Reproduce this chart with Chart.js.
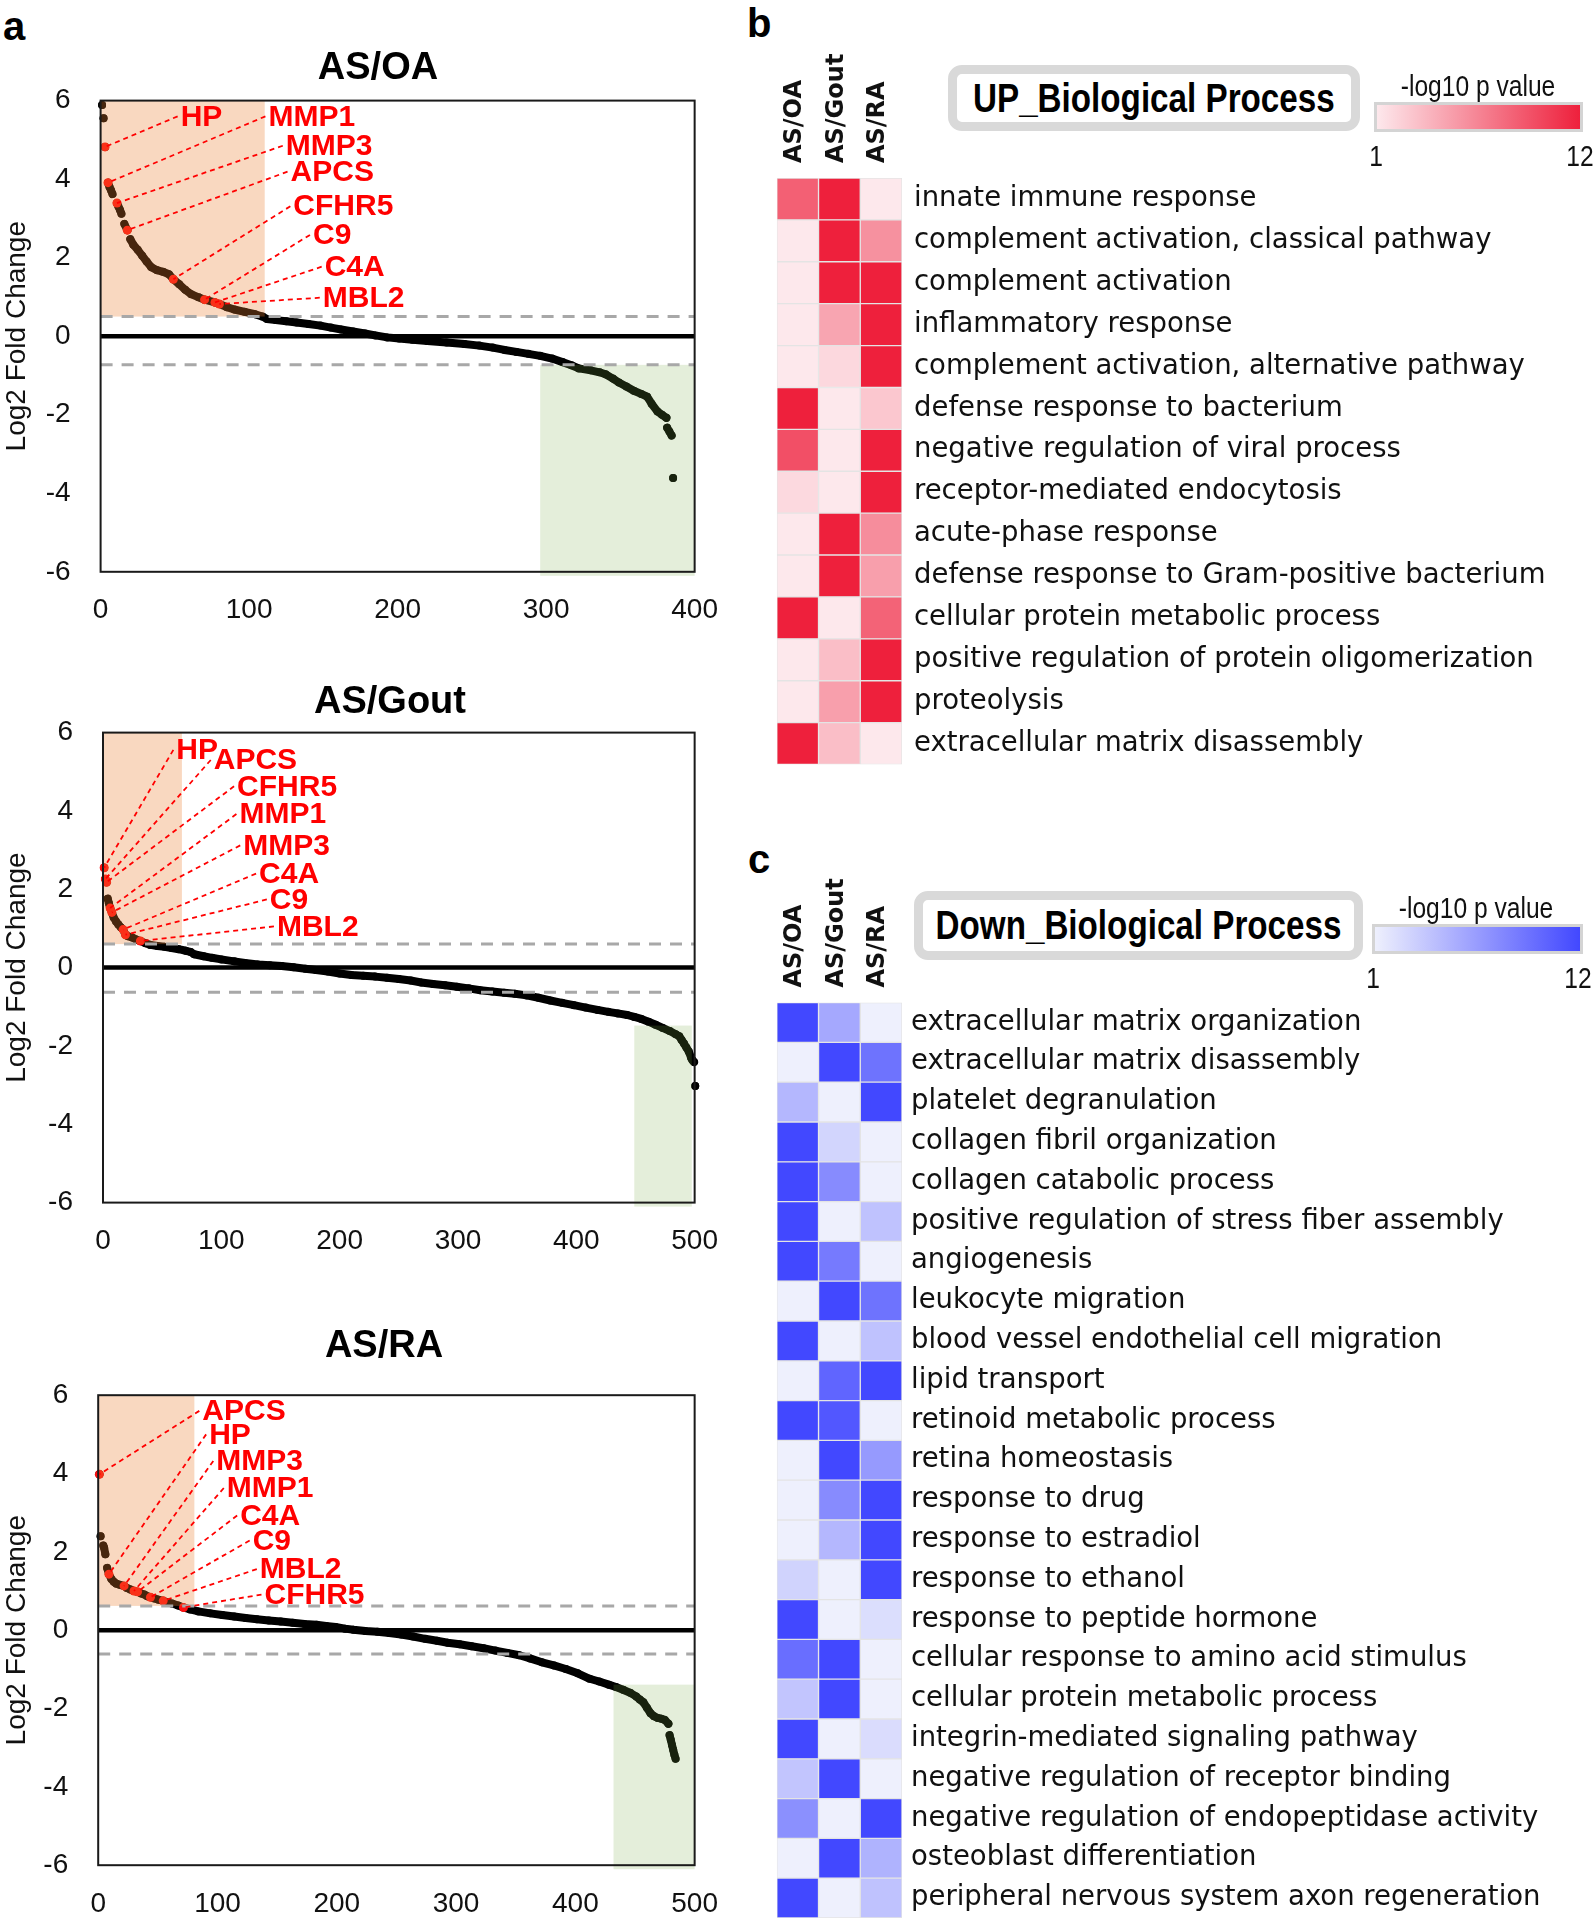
<!DOCTYPE html>
<html>
<head>
<meta charset="utf-8">
<script src="https://cdn.jsdelivr.net/npm/chart.js@4.4.1/dist/chart.umd.min.js"></script>
<style>
body { margin: 0; background: #fff; }
#page { position: relative; width: 1594px; height: 1924px; overflow: hidden; font-family: 'Liberation Sans', Arial, sans-serif; }
canvas { position: absolute; }
.panel { position: absolute; font: bold 40px 'Liberation Sans', Arial, sans-serif; line-height: 1; color: #000; }
.ttl { position: absolute; box-sizing: border-box; border: 9px solid #d9d9d9; border-radius: 14px; background: #fff;
       display: flex; align-items: center; justify-content: center; }
.ttl span { display: inline-block; font: bold 40px 'Liberation Sans', Arial, sans-serif; transform: scaleX(0.83); white-space: nowrap; }
.nar { position: absolute; font: 30px 'Liberation Sans', Arial, sans-serif; line-height: 1; white-space: nowrap;
       transform: translate(-50%, -50%) scaleX(0.82); color: #111; }
.bar { position: absolute; box-sizing: border-box; border: 3px solid #d4d4d4; }
</style>
</head>
<body>
<div id="page">
  <div class="panel" style="left:3px;top:6px">a</div>
  <div class="panel" style="left:747px;top:3px">b</div>
  <div class="panel" style="left:748px;top:839px">c</div>

  <canvas id="oa" width="740" height="620" style="left:0;top:20px"></canvas>
  <canvas id="gout" width="740" height="620" style="left:0;top:660px"></canvas>
  <canvas id="ra" width="740" height="624" style="left:0;top:1300px"></canvas>
  <canvas id="up" width="854" height="780" style="left:740px;top:0"></canvas>
  <canvas id="down" width="854" height="1094" style="left:740px;top:830px"></canvas>

  <div class="ttl" style="left:948px;top:65px;width:412px;height:66px"><span>UP_Biological Process</span></div>
  <div class="nar" style="left:1478px;top:86px">-log10 p value</div>
  <div class="bar" id="upBar" style="left:1374px;top:102px;width:209px;height:30px"></div>
  <div class="nar" style="left:1376px;top:156px">1</div>
  <div class="nar" style="left:1580px;top:156px">12</div>

  <div class="ttl" style="left:914px;top:891px;width:449px;height:69px"><span>Down_Biological Process</span></div>
  <div class="nar" style="left:1476px;top:908px">-log10 p value</div>
  <div class="bar" id="downBar" style="left:1372px;top:924px;width:211px;height:30px"></div>
  <div class="nar" style="left:1373px;top:978px">1</div>
  <div class="nar" style="left:1578px;top:978px">12</div>
</div>

<script>
// ---- panel a: ranked log2 fold change (null = visible break between dots) ----
const oaIdx = [1, 1, 2, 2, 3, 3, 5, 6, 7, 8, 8, 11, 12, 13, 14, 14, 16, 18, 18, 20, 22, 25, 28, 31, 34, 38, 42, 46, 49, 53, 57, 61, 66, 70, 77, 80, 85, 90, 97, 104, 109, 112, 118, 125, 132, 140, 148, 155, 162, 170, 178, 185, 193, 201, 210, 220, 233, 245, 255, 264, 272, 280, 288, 296, 304, 311, 317, 322, 330, 336, 340, 345, 349, 354, 359, 364, 368, 371, 375, 378, 381, 381, 381.5, 383, 384.5, 384.5, 385.5];
const oaFc = [5.89, null, 5.55, null, 4.82, null, 3.91, 3.8, 3.72, 3.62, null, 3.39, 3.3, 3.22, 3.12, null, 2.86, 2.7, null, 2.47, 2.33, 2.2, 2.05, 1.9, 1.76, 1.68, 1.64, 1.58, 1.45, 1.32, 1.18, 1.07, 0.99, 0.93, 0.86, 0.82, 0.74, 0.68, 0.62, 0.56, 0.5, 0.44, 0.41, 0.38, 0.35, 0.31, 0.27, 0.22, 0.17, 0.12, 0.07, 0.02, -0.03, -0.06, -0.09, -0.12, -0.16, -0.2, -0.24, -0.29, -0.35, -0.4, -0.45, -0.5, -0.57, -0.66, -0.74, -0.82, -0.87, -0.92, -0.97, -1.08, -1.18, -1.28, -1.39, -1.47, -1.54, -1.72, -1.92, -2.0, -2.08, null, -2.33, -2.43, -2.53, null, -3.61];
const oaGenes = ['HP', 'MMP1', 'MMP3', 'APCS', 'CFHR5', 'C9', 'C4A', 'MBL2'];
const oaGeneIdx = [3, 5, 11, 18, 49, 70, 77, 80];
const oaGeneFc = [4.82, 3.91, 3.39, 2.7, 1.45, 0.93, 0.86, 0.82];

const goutIdx = [1, 1, 2, 3, 3, 4, 5, 6, 7.5, 9, 11, 13, 15, 17, 19, 21, 24.5, 28, 31.6, 36, 40, 46, 52, 58, 64, 70, 74, 77, 85, 92, 100, 111, 120, 131, 141, 151, 161, 171, 180, 190, 200, 210, 220, 230, 240, 250, 260, 269, 279, 289, 299, 309, 319, 329, 339, 348, 358, 368, 378, 388, 398, 408, 418, 427, 435, 443, 449, 455, 461, 467, 473, 479, 484, 487, 489, 491, 493, 495, 497, 498, 499.5, 499.5, 500.5];
const goutFc = [2.55, null, 2.26, 2.18, null, 1.76, 1.64, 1.52, 1.41, 1.28, 1.18, 1.1, 1.03, 0.97, 0.84, 0.8, 0.77, 0.72, 0.68, 0.62, 0.58, 0.55, 0.53, 0.5, 0.47, 0.43, 0.4, 0.34, 0.29, 0.25, 0.21, 0.16, 0.12, 0.08, 0.06, 0.04, 0.01, -0.03, -0.06, -0.1, -0.15, -0.19, -0.21, -0.23, -0.26, -0.29, -0.33, -0.38, -0.42, -0.45, -0.49, -0.53, -0.58, -0.61, -0.64, -0.67, -0.71, -0.77, -0.84, -0.9, -0.96, -1.02, -1.08, -1.13, -1.17, -1.21, -1.26, -1.31, -1.38, -1.46, -1.54, -1.62, -1.7, -1.75, -1.85, -1.94, -2.04, -2.14, -2.3, -2.36, -2.41, null, -3.02];
const goutGenes = ['HP', 'APCS', 'CFHR5', 'MMP1', 'MMP3', 'C4A', 'C9', 'MBL2'];
const goutGeneIdx = [1, 2, 3, 6, 7.5, 17, 19, 31.6];
const goutGeneFc = [2.55, 2.26, 2.18, 1.52, 1.41, 0.97, 0.84, 0.68];

const raIdx = [1, 1, 2, 2, 4.3, 5, 6, 6, 7.5, 9, 11, 13, 15, 18, 21.7, 24, 27, 30, 33, 36, 38.7, 41, 43.8, 47, 50.5, 54.5, 58, 62, 67, 71.5, 77, 84, 94, 104, 114, 123.6, 133, 143, 153, 163, 173, 183, 191, 199, 207, 214, 224, 234, 244, 254, 264, 274, 284, 293, 303, 313, 323, 333, 343, 353, 362, 372, 382, 392, 402, 412, 420, 428, 434, 440, 446, 451, 454, 457, 460, 463, 466, 469, 472, 475, 478, 478, 479, 480, 481, 482, 483, 484];
const raFc = [3.98, null, 2.4, null, 2.16, 2.1, 1.94, null, 1.59, 1.43, 1.31, 1.24, 1.19, 1.16, 1.13, 1.08, 1.04, 1.0, 0.98, 0.94, 0.91, 0.87, 0.84, 0.81, 0.78, 0.75, 0.71, 0.68, 0.63, 0.58, 0.53, 0.48, 0.43, 0.39, 0.35, 0.31, 0.28, 0.25, 0.22, 0.19, 0.16, 0.14, 0.11, 0.08, 0.04, 0.01, -0.02, -0.04, -0.07, -0.11, -0.16, -0.22, -0.27, -0.32, -0.36, -0.41, -0.46, -0.52, -0.58, -0.64, -0.72, -0.82, -0.9, -0.99, -1.1, -1.24, -1.31, -1.39, -1.45, -1.52, -1.6, -1.69, -1.77, -1.84, -1.98, -2.12, -2.2, -2.24, -2.26, -2.29, -2.39, null, -2.68, -2.8, -2.93, -3.05, -3.18, -3.28];
const raGenes = ['APCS', 'HP', 'MMP3', 'MMP1', 'C4A', 'C9', 'MBL2', 'CFHR5'];
const raGeneIdx = [1, 9, 21.7, 30, 33, 43.8, 54.5, 71.5];
const raGeneFc = [3.98, 1.43, 1.13, 1.0, 0.98, 0.84, 0.75, 0.58];

const yTicks = [-6, -4, -2, 0, 2, 4, 6];

// ---- panels b, c: -log10 p value per comparison ----
const comparisons = ['AS/OA', 'AS/Gout', 'AS/RA'];
const upTerms = ['innate immune response', 'complement activation, classical pathway', 'complement activation',
  'inflammatory response', 'complement activation, alternative pathway', 'defense response to bacterium',
  'negative regulation of viral process', 'receptor-mediated endocytosis', 'acute-phase response',
  'defense response to Gram-positive bacterium', 'cellular protein metabolic process',
  'positive regulation of protein oligomerization', 'proteolysis', 'extracellular matrix disassembly'];
const upOA   = [8.5, 1, 1, 1, 1, 12, 9.4, 1.8, 1, 1, 12, 1, 1, 12];
const upGout = [12, 12, 12, 4.7, 1.9, 1, 1, 1, 12, 12, 1, 3.3, 5, 3.3];
const upRA   = [1, 5.8, 12, 12, 12, 2.8, 12, 12, 6, 5, 8.3, 12, 12, 1];

const downTerms = ['extracellular matrix organization', 'extracellular matrix disassembly', 'platelet degranulation',
  'collagen fibril organization', 'collagen catabolic process', 'positive regulation of stress fiber assembly',
  'angiogenesis', 'leukocyte migration', 'blood vessel endothelial cell migration', 'lipid transport',
  'retinoid metabolic process', 'retina homeostasis', 'response to drug', 'response to estradiol',
  'response to ethanol', 'response to peptide hormone', 'cellular response to amino acid stimulus',
  'cellular protein metabolic process', 'integrin-mediated signaling pathway',
  'negative regulation of receptor binding', 'negative regulation of endopeptidase activity',
  'osteoblast differentiation', 'peripheral nervous system axon regeneration'];
const downOA   = [12, 1, 4.7, 12, 12, 12, 12, 1, 12, 1, 12, 1, 1, 1, 2.9, 12, 9.5, 3.8, 12, 3.8, 7.3, 1, 12];
const downGout = [5.7, 12, 1, 2.8, 7.6, 1, 8.7, 12, 1, 10.1, 11, 12, 7.6, 4.7, 1, 1, 12, 12, 1, 12, 1, 12, 1];
const downRA   = [1, 9.2, 12, 1, 1, 4, 1, 9.2, 4, 12, 1, 6.6, 12, 12, 12, 2.2, 1, 1, 2.3, 1, 12, 5, 4];

const pMin = 1, pMax = 12;
const upLo = [253, 232, 236], upHi = [238, 32, 60];
const downLo = [238, 240, 253], downHi = [66, 72, 255];

Chart.defaults.font.family = "'Liberation Sans', Arial, sans-serif";
const sans = "'Liberation Sans', Arial, sans-serif";

function foldChart(id, c) {
  const W = 740, H = c.height, xh = 58;
  const pts = c.idx.map((v, i) => ({ x: v, y: c.fc[i] }));
  const red = c.geneIdx.map((v, i) => ({ x: v, y: c.geneFc[i] }));
  const decor = {
    id: 'decor' + id,
    afterDatasetsDraw(chart) {
      const { ctx, chartArea: a, scales: { x, y } } = chart;
      ctx.save();
      // up / down shaded blocks, drawn over the dots like the original
      const x0 = x.getPixelForValue(0), yTop = y.getPixelForValue(6);
      ctx.fillStyle = 'rgba(235,125,48,0.3)';
      ctx.fillRect(x0, yTop, x.getPixelForValue(c.upCut) - x0, y.getPixelForValue(c.upLine) - yTop);
      const gx = x.getPixelForValue(c.downCut), gy = y.getPixelForValue(c.downFill);
      ctx.fillStyle = 'rgba(120,170,70,0.2)';
      ctx.fillRect(gx, gy, x.getPixelForValue(c.downEnd) - gx, y.getPixelForValue(-6) + 4 - gy);
      // thresholds
      ctx.strokeStyle = '#a8a8a8'; ctx.lineWidth = 3; ctx.setLineDash([12, 9]);
      [c.upLine, c.downLine].forEach(v => {
        const py = y.getPixelForValue(v);
        ctx.beginPath(); ctx.moveTo(a.left, py); ctx.lineTo(a.right, py); ctx.stroke();
      });
      ctx.setLineDash([]);
      ctx.strokeStyle = '#000'; ctx.lineWidth = 4.5;
      const z = y.getPixelForValue(0);
      ctx.beginPath(); ctx.moveTo(a.left, z); ctx.lineTo(a.right, z); ctx.stroke();
      ctx.lineWidth = 2; ctx.strokeStyle = '#1a1a1a';
      ctx.strokeRect(a.left, a.top, a.right - a.left, a.bottom - a.top);
      // gene call-outs
      ctx.font = 'bold 30px ' + sans; ctx.fillStyle = '#ff0000';
      ctx.textAlign = 'left'; ctx.textBaseline = 'middle';
      ctx.strokeStyle = '#ff0000'; ctx.lineWidth = 1.8; ctx.setLineDash([5, 4]);
      c.genes.forEach((g, i) => {
        const lx = x.getPixelForValue(c.labelAt[i][0]), ly = y.getPixelForValue(c.labelAt[i][1]);
        const px = x.getPixelForValue(c.geneIdx[i]), py = y.getPixelForValue(c.geneFc[i]);
        ctx.beginPath(); ctx.moveTo(lx - 3, ly); ctx.lineTo(px, py); ctx.stroke();
        ctx.fillText(g, lx, ly + 1);
      });
      ctx.restore();
    },
    afterDraw(chart) {
      const { ctx, chartArea: a } = chart;
      ctx.save();
      ctx.fillStyle = '#000'; ctx.textAlign = 'center'; ctx.textBaseline = 'middle';
      ctx.font = 'bold 38px ' + sans;
      ctx.fillText(c.title, c.titleX, c.titleY);
      ctx.translate(17, (a.top + a.bottom) / 2);
      ctx.rotate(-Math.PI / 2);
      ctx.font = '28px ' + sans; ctx.fillStyle = '#111';
      ctx.fillText('Log2 Fold Change', 0, 0);
      ctx.restore();
    }
  };
  new Chart(document.getElementById(id), {
    type: 'scatter',
    data: {
      datasets: [
        { data: red, pointRadius: 4.5, pointBackgroundColor: '#ff1010', pointBorderWidth: 0, showLine: false, clip: 10 },
        { data: pts, showLine: true, spanGaps: false, borderColor: '#000', borderWidth: 8,
          borderCapStyle: 'round', borderJoinStyle: 'round', pointRadius: 4, pointBackgroundColor: '#000',
          pointBorderWidth: 0, clip: 10 }
      ]
    },
    options: {
      responsive: false, animation: false, events: [],
      layout: { padding: { left: 0, right: W - c.right, top: c.top, bottom: H - c.bottom - xh } },
      plugins: { legend: { display: false }, tooltip: { enabled: false } },
      scales: {
        x: { type: 'linear', min: 0, max: c.xMax,
             grid: { display: false, drawTicks: false }, border: { display: false },
             ticks: { stepSize: 100, padding: 22, color: '#111', font: { size: 28 } },
             afterFit: s => { s.height = xh; } },
        y: { min: -6, max: 6,
             grid: { display: false, drawTicks: false }, border: { display: false },
             afterBuildTicks: s => { s.ticks = yTicks.map(v => ({ value: v })); },
             ticks: { padding: 30, color: '#111', font: { size: 28 } },
             afterFit: s => { s.width = c.left; } }
      }
    },
    plugins: [decor]
  });
}

foldChart('oa', {
  title: 'AS/OA', titleX: 378, titleY: 49, height: 620,
  left: 100.6, right: 699.5, top: 80.6, bottom: 551.8, xMax: 400,
  idx: oaIdx, fc: oaFc, genes: oaGenes, geneIdx: oaGeneIdx, geneFc: oaGeneFc,
  labelAt: [[53.9, 5.6], [113, 5.6], [124.7, 4.85], [127.9, 4.19], [129.8, 3.31], [143, 2.58], [150.9, 1.77], [149.6, 0.98]],
  upCut: 110.5, upLine: 0.5, downLine: -0.73, downCut: 296, downFill: -0.73, downEnd: 400
});
foldChart('gout', {
  title: 'AS/Gout', titleX: 390, titleY: 43, height: 620,
  left: 103, right: 700.7, top: 72.6, bottom: 542.6, xMax: 500,
  idx: goutIdx, fc: goutFc, genes: goutGenes, geneIdx: goutGeneIdx, geneFc: goutGeneFc,
  labelAt: [[62, 5.56], [93.6, 5.3], [113.3, 4.63], [115.3, 3.92], [118.5, 3.12], [131.9, 2.4], [141, 1.74], [147, 1.05]],
  upCut: 66.7, upLine: 0.6, downLine: -0.63, downCut: 449, downFill: -1.48, downEnd: 497.6
});
foldChart('ra', {
  title: 'AS/RA', titleX: 384, titleY: 47, height: 624,
  left: 98.2, right: 695.8, top: 95.2, bottom: 565.2, xMax: 500,
  idx: raIdx, fc: raFc, genes: raGenes, geneIdx: raGeneIdx, geneFc: raGeneFc,
  labelAt: [[87.3, 5.6], [93, 5.0], [99, 4.32], [107.8, 3.63], [119, 2.93], [129.5, 2.29], [135.5, 1.56], [139.4, 0.91]],
  upCut: 80.6, upLine: 0.62, downLine: -0.61, downCut: 432, downFill: -1.39, downEnd: 500
});

function shade(lo, hi, v) {
  const t = (v - pMin) / (pMax - pMin);
  return 'rgb(' + lo.map((c, k) => Math.round(c + (hi[k] - c) * t)).join(',') + ')';
}

function heatChart(id, terms, cols, lo, hi, o) {
  const heads = {
    id: 'heads' + id,
    afterDraw(chart) {
      const { ctx, chartArea: a, scales: { x } } = chart;
      ctx.save();
      ctx.font = "bold 24px 'DejaVu Sans', sans-serif"; ctx.fillStyle = '#111';
      ctx.textAlign = 'left'; ctx.textBaseline = 'middle';
      comparisons.forEach((name, j) => {
        ctx.save();
        ctx.translate(x.getPixelForValue(j + 0.5) - 3, a.top - o.headGap);
        ctx.rotate(-Math.PI / 2);
        ctx.fillText(name, 0, 0);
        ctx.restore();
      });
      ctx.restore();
    }
  };
  new Chart(document.getElementById(id), {
    type: 'bar',
    data: {
      labels: terms,
      datasets: cols.map((vals, j) => ({
        label: comparisons[j],
        data: vals.map(() => 1),
        backgroundColor: vals.map(v => shade(lo, hi, v)),
        borderColor: '#e4e4e4', borderWidth: 1, borderSkipped: false,
        barPercentage: 1, categoryPercentage: 1
      }))
    },
    options: {
      indexAxis: 'y', responsive: false, animation: false, events: [],
      layout: { padding: { left: o.left, right: 0, top: o.top, bottom: o.bottom } },
      plugins: { legend: { display: false }, tooltip: { enabled: false } },
      scales: {
        x: { stacked: true, min: 0, max: 3, display: false },
        y: { stacked: true, position: 'right',
             grid: { display: false, drawTicks: false }, border: { display: false },
             ticks: { padding: o.labelPad, autoSkip: false, color: '#111',
                      font: { family: "'DejaVu Sans', sans-serif", size: 27.5 } },
             afterFit: s => { s.width = o.labelW; s.paddingTop = 0; s.paddingBottom = 0; } }
      }
    },
    plugins: [heads]
  });
}

heatChart('up', upTerms, [upOA, upGout, upRA], upLo, upHi,
  { left: 36.8, top: 178, bottom: 15.5, labelW: 692, labelPad: 12, headGap: 15 });
heatChart('down', downTerms, [downOA, downGout, downRA], downLo, downHi,
  { left: 36.8, top: 172.6, bottom: 6, labelW: 692, labelPad: 9, headGap: 15 });

document.getElementById('upBar').style.background =
  'linear-gradient(to right, ' + shade(upLo, upHi, pMin) + ', ' + shade(upLo, upHi, pMax) + ')';
document.getElementById('downBar').style.background =
  'linear-gradient(to right, ' + shade(downLo, downHi, pMin) + ', ' + shade(downLo, downHi, pMax) + ')';
</script>
</body>
</html>
